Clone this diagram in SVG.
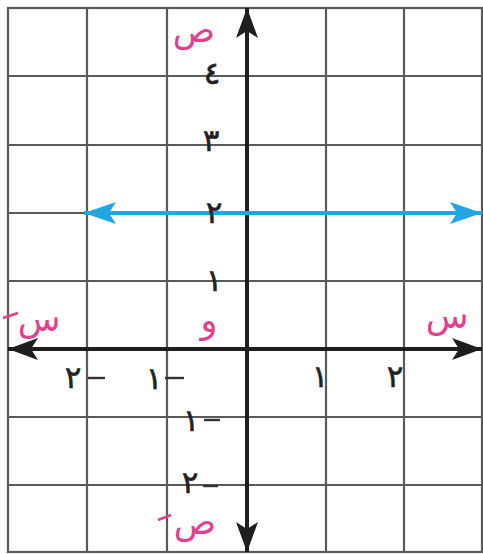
<svg xmlns="http://www.w3.org/2000/svg" width="483" height="554" viewBox="0 0 483 554">
<style>
.grid{stroke:#5a5a5a;stroke-width:2.2;fill:none}
.axis{stroke:#1e1e1e;stroke-width:4;fill:none}
.blue{stroke:#22a6e2;stroke-width:4;fill:none}
.num{font-family:"DejaVu Sans",sans-serif;font-size:31px;fill:#222;stroke:#222;stroke-width:0.6;text-anchor:middle}
.lbl{font-family:"DejaVu Sans",sans-serif;font-size:35px;fill:#e0418c;text-anchor:middle}
.dash{stroke:#333;stroke-width:2.4}
.pdash{stroke:#e0418c;stroke-width:2.6}
</style>
<defs>
<marker id="ak" markerUnits="userSpaceOnUse" markerWidth="30" markerHeight="22" refX="30" refY="11" orient="auto" viewBox="0 0 30 22">
<path d="M0,0 L30,11 L0,22 L7,11 Z" fill="#1e1e1e"/>
</marker>
<marker id="ab" markerUnits="userSpaceOnUse" markerWidth="32" markerHeight="22" refX="32" refY="11" orient="auto" viewBox="0 0 32 22">
<path d="M0,0 L32,11 L0,22 L7,11 Z" fill="#22a6e2"/>
</marker>
</defs>
<rect width="483" height="554" fill="#fff"/>
<g id="grid" class="grid">
<rect x="8" y="8" width="474" height="544"/>
<line x1="87" y1="8" x2="87" y2="552"/>
<line x1="167" y1="8" x2="167" y2="552"/>
<line x1="326" y1="8" x2="326" y2="552"/>
<line x1="404" y1="8" x2="404" y2="552"/>
<line x1="8" y1="76" x2="482" y2="76"/>
<line x1="8" y1="145" x2="482" y2="145"/>
<line x1="8" y1="213" x2="482" y2="213"/>
<line x1="8" y1="281" x2="482" y2="281"/>
<line x1="8" y1="417" x2="482" y2="417"/>
<line x1="8" y1="485" x2="482" y2="485"/>
</g>
<g id="connectors">
<line class="axis" x1="247" y1="280" x2="247" y2="8" marker-end="url(#ak)"/>
<line class="axis" x1="247" y1="280" x2="247" y2="552" marker-end="url(#ak)"/>
<line class="axis" x1="247" y1="349" x2="482" y2="349" marker-end="url(#ak)"/>
<line class="axis" x1="247" y1="349" x2="8" y2="349" marker-end="url(#ak)"/>
<line class="blue" x1="280" y1="213" x2="482" y2="213" marker-end="url(#ab)"/>
<line class="blue" x1="280" y1="213" x2="84" y2="213" marker-end="url(#ab)"/>
</g>
<g id="label-y"><text class="lbl" x="194" y="42">ص</text></g>
<g id="label-y4"><text class="num" x="212" y="84">٤</text></g>
<g id="label-y3"><text class="num" x="211" y="151">٣</text></g>
<g id="label-y2"><text class="num" x="214" y="223">٢</text></g>
<g id="label-y1"><text class="num" x="214" y="291">١</text></g>
<g id="label-o"><text class="lbl" x="209" y="332">و</text></g>
<g id="label-x"><text class="lbl" x="447" y="328">س</text></g>
<g id="label-xneg"><text class="lbl" x="39" y="331">س</text><line class="pdash" x1="3" y1="318" x2="18" y2="313"/></g>
<g id="label-x1"><text class="num" x="320" y="387">١</text></g>
<g id="label-x2"><text class="num" x="395" y="387">٢</text></g>
<g id="label-xm1"><text class="num" x="154" y="389">١</text><line class="dash" x1="165" y1="378" x2="184" y2="378"/></g>
<g id="label-xm2"><text class="num" x="73" y="388">٢</text><line class="dash" x1="88" y1="378" x2="105" y2="378"/></g>
<g id="label-ym1"><text class="num" x="191" y="431">١</text><line class="dash" x1="204" y1="420" x2="220" y2="420"/></g>
<g id="label-ym2"><text class="num" x="190" y="493">٢</text><line class="dash" x1="203" y1="486" x2="218" y2="486"/></g>
<g id="label-yneg"><text class="lbl" x="195" y="534">ص</text><line class="pdash" x1="158" y1="520" x2="171" y2="515"/></g>
</svg>
